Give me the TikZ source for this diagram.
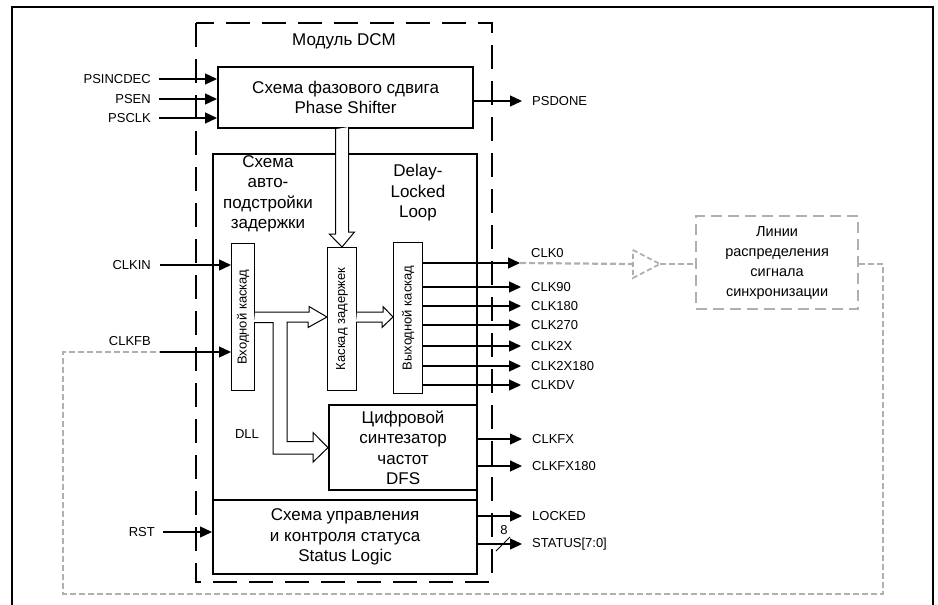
\documentclass[tikz,border=0pt]{standalone}
\usepackage{fontspec}
\setmainfont{Liberation Sans}
\usetikzlibrary{arrows.meta,positioning}

\definecolor{fbgrey}{RGB}{175,175,175}

\tikzset{
  blk/.style={draw,line width=2.2pt,fill=white,inner sep=0pt,anchor=north west},
  subblk/.style={draw,line width=1pt,fill=white,inner sep=0pt,anchor=north west},
  blktext/.style={align=center,font=\fontsize{17}{20.5}\selectfont},
  sigtext/.style={inner sep=0pt,font=\fontsize{13}{15}\selectfont},
  sig/.style={line width=1.3pt,-{Triangle[length=12pt,width=11pt]}},
  barrow/.style={draw,line width=1pt,fill=white,line join=miter},
  fbline/.style={draw=fbgrey,line width=2.2pt,dash pattern=on 6pt off 3pt},
}

\begin{document}
\begin{tikzpicture}[x=1pt,y=-1pt]
\path[use as bounding box] (0,0) rectangle (938,605);
\draw[line width=1.5pt] (12,606) -- (12,7) -- (933,7) -- (933,606);

% DCM module
\draw[line width=2.8pt,dash pattern=on 24pt off 12pt] (196,23) rectangle (492,582);
\node[blktext] (dcm) at (344,41) {Модуль DCM};

% blocks
\node[blk,blktext,minimum width=255pt,minimum height=61pt] (ps) at (217,66) {Схема фазового сдвига\\Phase Shifter};
\node[blk,minimum width=264pt,minimum height=346pt] (dll) at (212,153) {};
\node[blk,blktext,minimum width=264pt,minimum height=74pt] (status) at (212,499) {Схема управления\\и контроля статуса\\Status Logic};
\node[blk,blktext,minimum width=148pt,minimum height=85pt] (dfs) at (328,404) {Цифровой\\синтезатор\\частот\\DFS};

\node[blktext] (autotxt) at (268,194) {Схема\\авто-\\подстройки\\задержки};
\node[blktext] (dlltxt) at (418,193) {Delay-\\Locked\\Loop};
\node[sigtext] (dlllbl) at (247,434) {DLL};

\node[subblk,minimum width=23pt,minimum height=147pt] (inbuf) at (231,243) {};
\node[rotate=90,font=\fontsize{13}{15}\selectfont] (inbuftxt) at (inbuf.center) {Входной каскад};
\node[subblk,minimum width=29pt,minimum height=143pt] (dline) at (327,247) {};
\node[rotate=90,font=\fontsize{13}{15}\selectfont] (dlinetxt) at (dline.center) {Каскад задержек};
\node[subblk,minimum width=29pt,minimum height=151pt] (outbuf) at (393,242) {};
\node[rotate=90,font=\fontsize{13}{15}\selectfont] (outbuftxt) at (outbuf.center) {Выходной каскад};

% hollow arrows
\coordinate (arra) at (dline.north |- ps.south);
\draw[barrow] ([xshift=-6.5pt]arra) -- ++(0,105) -- ++(-6,0) -- (dline.north) -- ++(12.5,-15) -- ++(-6,0) -- ++(0,-105);
\draw[barrow] ([yshift=5pt]inbuf.east) -- ++(54,0) -- ++(0,-5.5) -- (dline.west |- inbuf.east) -- ++(-19,10.5) -- ++(0,-5.5)
  -- ++(-21,0) -- ++(0,119.5) -- ++(26,0) -- ++(0,-9) -- (dfs.west) -- ++(-15,14.5) -- ++(0,-8) -- ++(-40,0) -- ++(0,-131.5) -- ++(-19,0);
\coordinate (arrc) at (dline.east |- inbuf.east);
\draw[barrow] ([yshift=5pt]arrc) -- ++(26,0) -- ++(0,-5.5) -- (outbuf.west |- inbuf.east) -- ++(-11,10.5) -- ++(0,-5.5) -- ++(-26,0);

% inputs
\foreach \nm/\yy in {PSINCDEC/79,PSEN/99,PSCLK/118} {
  \node[sigtext,anchor=east] (\nm) at (151,\yy) {\nm};
  \draw[sig,shorten <=8pt] (\nm.east) -- (ps.west |- \nm.east);
}
\node[sigtext,anchor=east] (clkin) at (151,265) {CLKIN};
\draw[sig,shorten <=9pt] (clkin.east) -- (inbuf.west |- clkin.east);
\node[sigtext,anchor=east] (clkfb) at (151,341) {CLKFB};
\coordinate (fbin) at (160,352);
\draw[sig] (fbin) -- (inbuf.west |- fbin);
\node[sigtext,anchor=east] (rst) at (155,532) {RST};
\draw[sig,shorten <=8pt] (rst.east) -- (status.west |- rst.east);

% outputs
\node[sigtext,anchor=west] (psdone) at (532,101) {PSDONE};
\draw[sig,shorten >=10pt] (ps.east |- psdone.west) -- (psdone.west);
\node[sigtext,anchor=west] (clk0) at (531,253) {CLK0};
\coordinate (clk0tip) at (520,263);
\draw[sig] (outbuf.east |- clk0tip) -- (clk0tip);
\foreach \nm/\yy in {CLK90/287,CLK180/306,CLK270/325,CLK2X/346,CLK2X180/366,CLKDV/385} {
  \node[sigtext,anchor=west] (\nm) at (531,\yy) {\nm};
  \draw[sig,shorten >=10pt] (outbuf.east |- \nm.west) -- (\nm.west);
}
\foreach \nm/\yy in {CLKFX/439,CLKFX180/466} {
  \node[sigtext,anchor=west] (\nm) at (532,\yy) {\nm};
  \draw[sig,shorten >=10pt] (dfs.east |- \nm.west) -- (\nm.west);
}
\node[sigtext,anchor=west] (locked) at (532,516) {LOCKED};
\draw[sig,shorten >=10pt] (status.east |- locked.west) -- (locked.west);
\node[sigtext,anchor=west] (statusbus) at (532,544) {STATUS[7:0]};
\draw[sig,shorten >=10pt] (status.east |- statusbus.west) -- (statusbus.west);
\coordinate (busmark) at (503,544);
\draw[line width=1pt] ([shift={(-7,7)}]busmark) -- ([shift={(7,-7)}]busmark);
\node[sigtext] (buswidth) at (504,530) {8};

% clock distribution
\node[draw=fbgrey,line width=2.2pt,dash pattern=on 11pt off 6pt,minimum width=162pt,minimum height=93pt,anchor=north west,
  align=center,font=\fontsize{14.5}{20}\selectfont] (net) at (695,215) {Линии\\распределения\\сигнала\\синхронизации};
\coordinate (bufin) at (633,264);
\coordinate (bufout) at (660,264);
\draw[draw=fbgrey,line width=1.8pt,dash pattern=on 5pt off 3pt] (633,250) -- (bufout) -- (633,278) -- cycle;
\draw[fbline] (clk0tip) -- (bufin);
\draw[fbline] (bufout) -- (net.west |- bufout);
\draw[fbline] (net.east |- bufout) -- ++(24,0) |- (63,594) |- (fbin);
\end{tikzpicture}
\end{document}
